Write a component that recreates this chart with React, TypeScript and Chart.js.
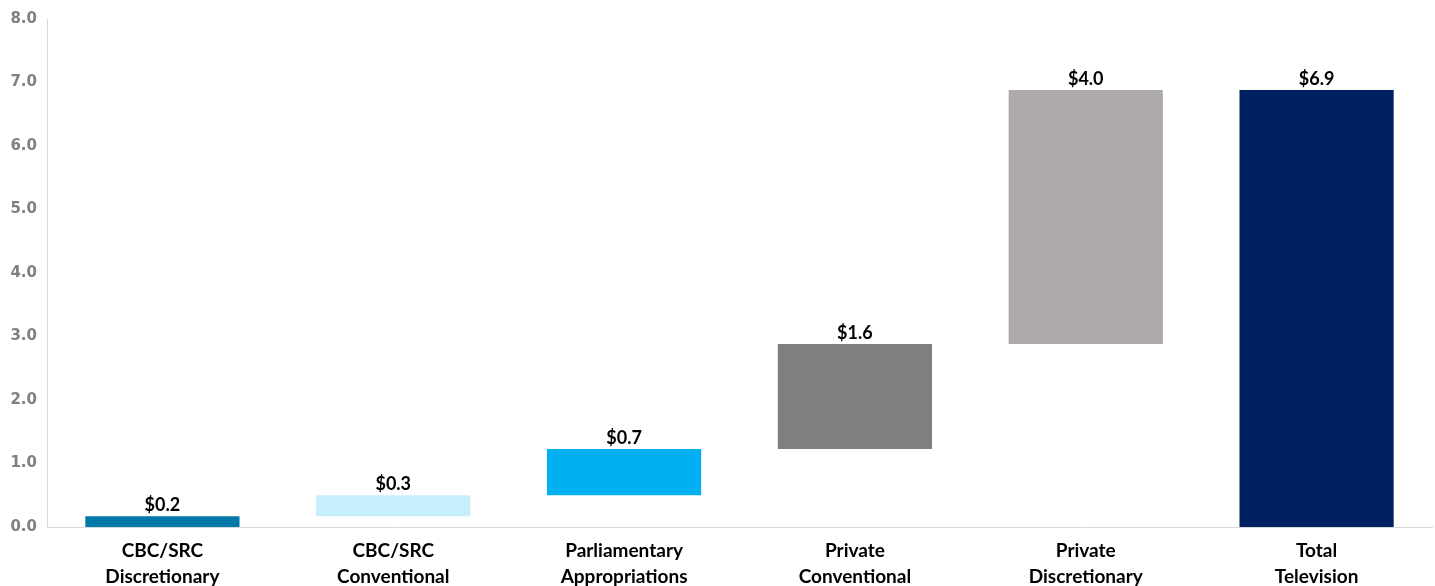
import React, { useEffect, useRef } from "react";
import { Chart, registerables } from "chart.js";

Chart.register(...registerables);

const categories: string[][] = [
  ["CBC/SRC", "Discretionary"],
  ["CBC/SRC", "Conventional"],
  ["Parliamentary", "Appropriations"],
  ["Private", "Conventional"],
  ["Private", "Discretionary"],
  ["Total", "Television"],
];
const barStarts = [0, 0.17, 0.5, 1.23, 2.88, 0];
const barEnds = [0.17, 0.5, 1.23, 2.88, 6.88, 6.88];
const valueLabels = ["$0.2", "$0.3", "$0.7", "$1.6", "$4.0", "$6.9"];
const barColors = ["#0079A8", "#C7EEFC", "#00B0F0", "#7F7F7F", "#AEAAAA", "#002060"];
const yTicks = [0, 1, 2, 3, 4, 5, 6, 7, 8];

const W = 1435;
const H = 600;

const labelPlugin = {
  id: "valueLabels",
  afterDatasetsDraw(chart: any) {
    const ctx = chart.ctx;
    const meta = chart.getDatasetMeta(0);
    ctx.save();
    ctx.font = "bold 18px Lato";
    ctx.fillStyle = "#000000";
    ctx.textAlign = "center";
    ctx.textBaseline = "bottom";
    meta.data.forEach((el: any, i: number) => {
      const top = Math.min(el.y, el.base);
      ctx.fillText(valueLabels[i], el.x, top - 2);
    });
    ctx.restore();
  },
};

export default function App() {
  const ref = useRef<HTMLCanvasElement>(null);
  useEffect(() => {
    if (!ref.current) return;
    const chart = new Chart(ref.current, {
      type: "bar",
      data: {
        labels: categories,
        datasets: [
          {
            data: barStarts.map((s, i) => [s, barEnds[i]]) as any,
            backgroundColor: barColors,
            borderWidth: 0,
            barPercentage: 0.668,
            categoryPercentage: 1,
          },
        ],
      },
      options: {
        responsive: false,
        animation: false,
        layout: { padding: { top: 10, right: 3, left: 0, bottom: 0 } },
        plugins: { legend: { display: false }, tooltip: { enabled: false } },
        scales: {
          x: {
            grid: { display: false, drawTicks: false },
            border: { display: true, color: "#D9D9D9", width: 1 },
            ticks: {
              color: "#000000",
              font: { family: "Lato", size: 19, weight: "bold", lineHeight: 1.37 },
              padding: 11,
              maxRotation: 0,
              autoSkip: false,
            },
            afterFit: (s: any) => {
              s.height = H - 527;
            },
          },
          y: {
            min: 0,
            max: 8,
            afterBuildTicks: (s: any) => {
              s.ticks = yTicks.map((v) => ({ value: v }));
            },
            grid: { display: false, drawTicks: false },
            border: { display: true, color: "#D9D9D9", width: 1 },
            ticks: {
              color: "#808080",
              font: { family: "DejaVu Sans", size: 15, weight: "bold" },
              padding: 10,
              callback: (v: any) => Number(v).toFixed(1),
            },
            afterFit: (s: any) => {
              s.width = 47;
            },
          },
        },
      },
      plugins: [labelPlugin],
    });
    return () => chart.destroy();
  }, []);
  return (
    <div style={{ position: "fixed", left: 0, top: 0, width: W, height: 586, overflow: "hidden", background: "#fff" }}>
      <canvas ref={ref} width={W} height={H} style={{ display: "block" }} />
    </div>
  );
}
